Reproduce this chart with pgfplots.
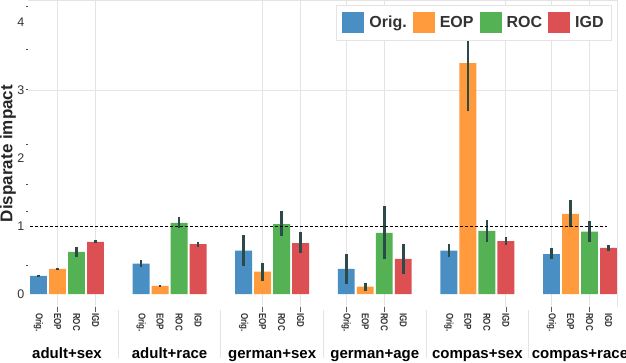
\documentclass[border=0pt]{standalone}
\usepackage{pgfplots}
\pgfplotsset{compat=1.18}
\usepackage{fontspec}
\setmainfont{Liberation Sans}
\newfontfamily\ticknarrow{Liberation Sans}[FakeStretch=0.8]

\definecolor{cOrig}{HTML}{4A8FC4}
\definecolor{cEOP}{HTML}{FF9A3D}
\definecolor{cROC}{HTML}{55B254}
\definecolor{cIGD}{HTML}{DC4F53}
\definecolor{errc}{HTML}{2B4A48}
\definecolor{gridc}{HTML}{E4E4E4}
\definecolor{txt}{HTML}{333333}

\pgfplotsset{
  errstyle/.style={/pgfplots/error bars/.cd, y dir=both, y explicit, error mark=none,
    error bar style={line width=2.6pt, color=errc}},
}
\tikzset{grp/.style={anchor=base, inner sep=0pt, font=\fontsize{15}{17}\selectfont\bfseries}}

\begin{document}
\begin{tikzpicture}
\begin{axis}[
  at={(0,0)}, anchor=south west,
  scale only axis, width=589pt, height=307pt,
  xmin=-0.553, xmax=30.45, ymin=-0.19, ymax=4.33,
  axis line style={draw=none},
  clip=false,
  ybar, bar width=0.89, bar shift=0pt,
  xtick pos=bottom, ytick pos=left,
  major tick length=0pt,
  xtick={0,1,2,3,5.4,6.4,7.4,8.4,10.8,11.8,12.8,13.8,16.2,17.2,18.2,19.2,21.6,22.6,23.6,24.6,27,28,29,30},
  xticklabels={Orig.,EOP,ROC,IGD,Orig.,EOP,ROC,IGD,Orig.,EOP,ROC,IGD,Orig.,EOP,ROC,IGD,Orig.,EOP,ROC,IGD,Orig.,EOP,ROC,IGD},
  xticklabel style={rotate=-90, anchor=west, inner sep=0pt,
    font=\ticknarrow\bfseries\fontsize{10}{12}\selectfont, text=black!80},
  xticklabel shift=6pt,
  extra x ticks={1,3,11.8,13.8,16.2,18.2,24.6,27,29},
  extra x tick labels={},
  extra x tick style={xmajorgrids=true, major tick length=5pt, tick align=outside,
    major tick style={black!65, line width=0.7pt}},
  major grid style={gridc, line width=0.9pt},
  ytick={0,1,2,3,4},
  yticklabel style={font=\fontsize{12.5}{14}\selectfont, text=txt, inner sep=0pt},
  yticklabel shift=3.5pt,
  /pgf/number format/assume math mode=true,
  extra y ticks={4.23,3.6,3.02,2.21,1.61,1.22,0.42},
  extra y tick labels={},
  extra y tick style={major tick length=2pt, tick align=outside,
    major tick style={black!70, line width=0.7pt}},
  ylabel={Disparate impact},
  ylabel style={at={([xshift=-20pt]rel axis cs:0,0.5)}, anchor=center,
    font=\fontsize{17}{20}\selectfont\bfseries, text=black!85},
  legend columns=4,
  legend style={at={(1,1)}, anchor=north east, xshift=-5pt, yshift=-5pt,
    draw=gridc, line width=0.8pt, fill=white,
    font=\fontsize{16}{19}\selectfont\bfseries, text=txt,
    inner xsep=6pt, inner ysep=7pt, nodes={inner sep=2pt},
    /tikz/every odd column/.append style={column sep=3pt},
    /tikz/every even column/.append style={column sep=4pt}},
  legend image code/.code={\fill[#1] (0pt,-10.5pt) rectangle (22pt,10.5pt);},
]
% light grid line at 3 and the light frame at top and right
\addplot[sharp plot, forget plot, gridc, line width=0.9pt] coordinates {(-0.553,3) (30.45,3)};
\draw[gridc, line width=0.9pt] (rel axis cs:0,1) -- (rel axis cs:1,1) -- (rel axis cs:1,0);

\addplot[fill=cOrig, draw=none, errstyle] coordinates {
  (0,0.27) += (0,0.01) -= (0,0.01)
  (5.4,0.45) += (0,0.05) -= (0,0.05)
  (10.8,0.64) += (0,0.23) -= (0,0.22)
  (16.2,0.37) += (0,0.22) -= (0,0.22)
  (21.6,0.64) += (0,0.10) -= (0,0.10)
  (27,0.59) += (0,0.09) -= (0,0.08)
};
\addlegendentry{Orig.}
\addplot[fill=cEOP, draw=none, errstyle] coordinates {
  (1,0.37) += (0,0.02) -= (0,0.02)
  (6.4,0.12) += (0,0.01) -= (0,0.01)
  (11.8,0.33) += (0,0.13) -= (0,0.13)
  (17.2,0.11) += (0,0.06) -= (0,0.06)
  (22.6,3.40) += (0,0.32) -= (0,0.71)
  (28,1.18) += (0,0.20) -= (0,0.19)
};
\addlegendentry{EOP}
\addplot[fill=cROC, draw=none, errstyle] coordinates {
  (2,0.62) += (0,0.08) -= (0,0.07)
  (7.4,1.05) += (0,0.08) -= (0,0.07)
  (12.8,1.03) += (0,0.20) -= (0,0.18)
  (18.2,0.90) += (0,0.39) -= (0,0.38)
  (23.6,0.93) += (0,0.16) -= (0,0.17)
  (29,0.92) += (0,0.16) -= (0,0.15)
};
\addlegendentry{ROC}
\addplot[fill=cIGD, draw=none, errstyle] coordinates {
  (3,0.77) += (0,0.02) -= (0,0.015)
  (8.4,0.735) += (0,0.035) -= (0,0.035)
  (13.8,0.75) += (0,0.16) -= (0,0.14)
  (19.2,0.52) += (0,0.22) -= (0,0.22)
  (24.6,0.78) += (0,0.06) -= (0,0.05)
  (30,0.68) += (0,0.04) -= (0,0.05)
};
\addlegendentry{IGD}

% reference line at disparate impact = 1
\addplot[sharp plot, forget plot, black, line width=1pt, dash pattern=on 3pt off 2pt]
  coordinates {(-0.45,1) (29.9,1)};

% separators between the groups
\pgfplotsinvokeforeach{4.2,9.6,15,20.4,25.8}{
  \draw[gridc, line width=0.9pt] (axis cs:#1,-0.19) ++(0pt,-3pt) -- ++(0pt,-48pt);
}
% group names
\path (axis cs:1.5,-0.19)  ++(0pt,-51pt) node[grp] {adult+sex};
\path (axis cs:6.9,-0.19)  ++(0pt,-51pt) node[grp] {adult+race};
\path (axis cs:12.3,-0.19) ++(0pt,-51pt) node[grp] {german+sex};
\path (axis cs:17.7,-0.19) ++(0pt,-51pt) node[grp] {german+age};
\path (axis cs:23.1,-0.19) ++(0pt,-51pt) node[grp] {compas+sex};
\path (axis cs:28.5,-0.19) ++(0pt,-51pt) node[grp] {compas+race};
\end{axis}
\pgfresetboundingbox
\path (-28pt,-55pt) rectangle (598pt,307pt);
\end{tikzpicture}
\end{document}
